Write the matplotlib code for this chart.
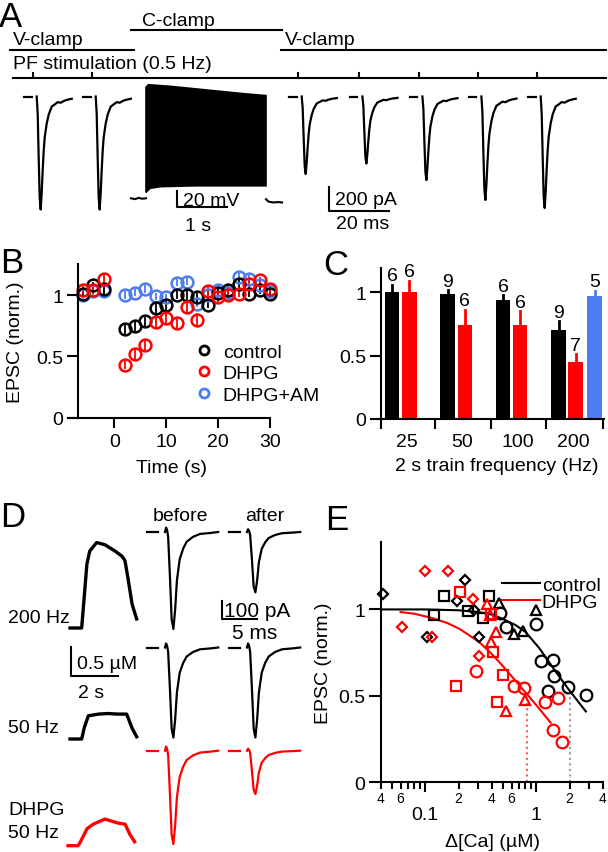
import numpy as np
import matplotlib
matplotlib.use('Agg')
import matplotlib.pyplot as plt
from matplotlib.ticker import FixedLocator, FixedFormatter, NullFormatter
from matplotlib.lines import Line2D

plt.rcParams['font.family'] = ['Liberation Sans', 'DejaVu Sans']
plt.rcParams['font.size'] = 14
plt.rcParams['axes.linewidth'] = 1.5

W, H = 608, 853
RED = '#ff0000'
BLUE = '#4b7cf2'

# ---------------- data ----------------
# A: EPSC amplitudes (pA) for each PF stimulus, and a normalised EPSC waveform
epsc_amp_A = [970, 970, 665, 575, 717, 888, 957]
epsc_t_A = [0, 0.33, 0.67, 1.0, 1.33, 1.67, 2.0, 2.33, 2.67, 3.33, 4.0, 5.0, 6.0, 7.0, 8.0, 9.0, 10.0, 11.7]
epsc_f_A = [0, 0.15, 0.55, 0.9, 1.0, 0.85, 0.65, 0.48, 0.36, 0.24, 0.16, 0.09, 0.07, 0.05, 0.055, 0.04, 0.03, 0.02]
# A: current clamp train (mV relative to rest, time in s)
cc_pre_t = [-0.3, -0.22, -0.15, -0.08, 0]
cc_pre_v = [0, -1, 0.5, -0.5, 0]
cc_top_t = [0, 0.05, 0.5, 1.0, 1.5, 2.0, 2.4]
cc_top_v = [133, 136, 134, 131, 128, 125, 123]
cc_bot_t = [0, 0.08, 0.3, 1.0, 2.4]
cc_bot_v = [7, 12, 14, 15, 15]
cc_post_t = [2.4, 2.45, 2.55, 2.65, 2.72]
cc_post_v = [-1, -4, -5, -4.5, -5]

# B: time course
t_b = [-6, -4, -2, 2, 4, 6, 8, 10, 12, 14, 16, 18, 20, 22, 24, 26, 28, 30]
ctrl_b = [1.01, 1.08, 1.05, 0.72, 0.75, 0.79, 0.89, 0.92, 1.0, 1.0, 0.98, 0.92, 1.02, 1.04, 1.09, 1.01, 1.04, 1.01]
ctrl_b_err = [0.03, 0.03, 0.04, 0.04, 0.05, 0.05, 0.05, 0.04, 0.03, 0.04, 0.04, 0.03, 0.03, 0.03, 0.03, 0.03, 0.03, 0.03]
dhpg_b = [1.04, 1.04, 1.13, 0.43, 0.52, 0.59, 0.78, 0.81, 0.77, 0.90, 0.80, 1.03, 0.98, 1.0, 1.01, 1.09, 1.12, 1.05]
dhpg_b_err = [0.03, 0.03, 0.05, 0.03, 0.05, 0.05, 0.06, 0.05, 0.04, 0.05, 0.05, 0.04, 0.04, 0.03, 0.03, 0.04, 0.03, 0.03]
am_b = [1.0, 1.03, 1.03, 1.0, 1.02, 1.05, 0.99, 0.98, 1.10, 1.11, 0.93, 1.0, 1.04, 1.02, 1.15, 1.13, 1.08, 1.03]
am_b_err = [0.03] * 18

# C: bar chart
freqs = ['25', '50', '100', '200']
ctrl_c = [1.0, 0.987, 0.934, 0.705]
ctrl_c_err = [0.058, 0.026, 0.04, 0.065]
ctrl_c_n = [6, 9, 6, 9]
dhpg_c = [1.0, 0.742, 0.737, 0.453]
dhpg_c_err = [0.087, 0.118, 0.113, 0.057]
dhpg_c_n = [6, 6, 6, 7]
am_c = 0.966
am_c_err = 0.042
am_c_n = 5

# D: Ca transients (s, uM)
ca200_t = [0, 0.42, 0.49, 0.59, 0.71, 0.83, 1.12, 1.47, 1.89, 2.18, 2.31, 2.44, 2.61, 2.8]
ca200_c = [0, 0, 0, 0.51, 1.13, 1.36, 1.51, 1.47, 1.36, 1.27, 1.19, 0.87, 0.42, 0.16]
ca50_t = [0, 0.49, 0.6, 0.77, 1.2, 1.6, 2.0, 2.38, 2.6, 2.8]
ca50_c = [0, 0, 0.2, 0.41, 0.44, 0.45, 0.44, 0.44, 0.2, 0.04]
cadh_t = [0, 0.42, 0.5, 0.8, 1.06, 1.55, 2.1, 2.4, 2.6, 2.8]
cadh_c = [0, 0, 0.05, 0.3, 0.38, 0.47, 0.4, 0.38, 0.2, 0.07]
# D: EPSCs before/after (pA) and normalised waveform (ms)
epsc_before_D = [530, 492, 510]
epsc_after_D = [330, 492, 237]
epsc_t_D = [0, 0.15, 0.3, 0.45, 0.7, 0.95, 1.2, 1.45, 1.7, 2.1, 2.6, 3.1, 4, 5, 6.5, 7.6]
epsc_f_D = [0, -0.045, -0.02, 0.05, 0.45, 0.9, 1.0, 0.8, 0.5, 0.28, 0.17, 0.1, 0.05, 0.02, 0.01, 0.0]

# E: EPSC vs delta Ca
ctrl_circ_x = [0.47, 0.536, 1.0, 1.11, 1.41, 1.46, 1.27, 1.93, 2.83]
ctrl_circ_y = [0.98, 0.897, 0.917, 0.704, 0.71, 0.617, 0.53, 0.55, 0.507]
ctrl_sq_x = [0.149, 0.12, 0.241, 0.33, 0.375]
ctrl_sq_y = [1.079, 0.965, 0.988, 0.95, 1.08]
ctrl_dia_x = [0.0418, 0.103, 0.23, 0.192, 0.277, 0.305]
ctrl_dia_y = [1.09, 0.843, 1.17, 1.046, 0.998, 0.838]
ctrl_tri_x = [0.466, 1.0, 0.757, 0.637]
ctrl_tri_y = [1.04, 0.994, 0.878, 0.859]
dhpg_circ_x = [0.285, 0.637, 0.784, 1.21, 1.57, 1.41, 1.72]
dhpg_circ_y = [0.646, 0.559, 0.544, 0.467, 0.486, 0.305, 0.232]
dhpg_sq_x = [0.206, 0.392, 0.405, 0.50, 0.19, 0.44]
dhpg_sq_y = [1.10, 0.975, 0.753, 0.62, 0.559, 0.463]
dhpg_dia_x = [0.0624, 0.1, 0.159, 0.115, 0.267, 0.308]
dhpg_dia_y = [0.897, 1.22, 1.225, 0.84, 1.06, 0.731]
dhpg_tri_x = [0.36, 0.385, 0.435, 0.392, 0.536, 0.80]
dhpg_tri_y = [1.03, 0.97, 0.868, 0.81, 0.415, 0.477]
ctrl_fit_x = [0.04, 0.1, 0.2, 0.3, 0.4, 0.5, 0.65, 0.8, 1.07, 1.5, 2.0, 2.8]
ctrl_fit_y = [1.0, 1.0, 0.995, 0.985, 0.97, 0.945, 0.91, 0.87, 0.775, 0.64, 0.53, 0.41]
dhpg_fit_x = [0.06, 0.08, 0.116, 0.16, 0.203, 0.25, 0.308, 0.38, 0.466, 0.58, 0.707, 0.9, 1.1, 1.35]
dhpg_fit_y = [0.985, 0.975, 0.95, 0.92, 0.888, 0.85, 0.81, 0.755, 0.695, 0.625, 0.56, 0.482, 0.415, 0.345]
ec_ctrl = 2.03
ec_dhpg = 0.82

# ---------------- figure ----------------
fig = plt.figure(figsize=(W / 100, H / 100), dpi=100)


def px_axes(x0, y0, x1, y1):
    return fig.add_axes([x0 / W, 1 - y1 / H, (x1 - x0) / W, (y1 - y0) / H])


ov = fig.add_axes([0, 0, 1, 1])
ov.set_xlim(0, W)
ov.set_ylim(H, 0)
ov.axis('off')


def txt(x, y, s, **kw):
    kw.setdefault('fontsize', 14)
    kw.setdefault('va', 'baseline')
    ov.text(x, y, s, **kw)


# panel letters
for x, y, s in [(-1, 27, 'A'), (0, 273, 'B'), (323, 275, 'C'), (0, 527, 'D'), (325, 530, 'E')]:
    txt(x, y, s, fontsize=25)

# ---- A: protocol ----
ov.plot([10, 134], [50.7, 50.7], color='k', lw=1.5)
ov.plot([131, 282], [30.7, 30.7], color='k', lw=1.5)
ov.plot([281, 606], [50.7, 50.7], color='k', lw=1.5)
txt(13, 45, 'V-clamp')
txt(142, 26, 'C-clamp')
txt(285, 45, 'V-clamp')
txt(13, 69, 'PF stimulation (0.5 Hz)')
stim_x = [33.3, 92.3, 298.3, 359, 419, 478, 537.3]
ov.plot([12.7, 606], [79.3, 79.3], color='k', lw=1.5)
for sx in stim_x:
    ov.plot([sx, sx], [74, 79.3], color='k', lw=1.5)

# ---- A: EPSCs ----
base_A = 97.5
pxms_A, pxpa_A = 3.0, 23.3 / 200
for sx, amp in zip(stim_x, epsc_amp_A):
    x0 = sx + 3.4
    ov.plot([x0 - 12.7, x0 - 5], [base_A, base_A], color='k', lw=1.6)
    ov.plot(x0 + np.array(epsc_t_A) * pxms_A, base_A + amp * pxpa_A * np.array(epsc_f_A),
            color='k', lw=1.6)

# ---- A: current clamp block ----
cc_x0, cc_rest = 146, 199.3
pxs_A, pxmv_A = 50.0, 0.835
ov.plot(cc_x0 + np.array(cc_pre_t) * pxs_A, cc_rest - np.array(cc_pre_v) * pxmv_A, color='k', lw=1.5)
poly_x = np.concatenate([cc_x0 + np.array(cc_top_t) * pxs_A, (cc_x0 + np.array(cc_bot_t) * pxs_A)[::-1]])
poly_y = np.concatenate([cc_rest - np.array(cc_top_v) * pxmv_A, (cc_rest - np.array(cc_bot_v) * pxmv_A)[::-1]])
ov.fill(poly_x, poly_y, color='k', lw=1.2)
ov.plot(cc_x0 + np.array(cc_post_t) * pxs_A, cc_rest - np.array(cc_post_v) * pxmv_A, color='k', lw=1.5)

# scale bars A
ov.plot([176.7, 176.7, 226.7], [191.7, 208.3, 208.3], color='k', lw=1.5)
txt(182.7, 206, '20 mV')
txt(185, 231, '1 s')
ov.plot([329, 329, 389], [188.3, 211.7, 211.7], color='k', lw=1.5)
txt(334.7, 205, '200 pA')
txt(335.7, 229, '20 ms')

# ---- B ----
axb = px_axes(68, 265.4, 270, 418.5)
axb.set_xlim(-8.9, 30)
axb.set_ylim(0, 1.25)
for ys, es, c in [(am_b, am_b_err, BLUE), (ctrl_b, ctrl_b_err, 'k'), (dhpg_b, dhpg_b_err, RED)]:
    axb.errorbar(t_b, ys, yerr=es, fmt='o', ms=8.5, mfc='none', mec=c, mew=1.8,
                 ecolor=c, elinewidth=1.3, capsize=0, clip_on=False)
axb.spines['left'].set_position(('data', -7))
axb.set_xticks([0, 10, 20, 30])
axb.set_yticks([0, 0.5, 1])
axb.set_yticklabels(['0', '0.5', '1'])
leg_b = [Line2D([], [], ls='none', marker='o', ms=6.5, mfc='none', mec=c, mew=2)
         for c in ['k', RED, BLUE]]
axb.legend(leg_b, ['control', 'DHPG', 'DHPG+AM'], loc='upper left',
           bbox_to_anchor=(194.5 / W, 1 - 344 / H), bbox_transform=fig.transFigure,
           frameon=False, borderpad=0, borderaxespad=0, handlelength=1.0,
           handletextpad=0.45, labelspacing=0.2, fontsize=14)
txt(172, 473, 'Time (s)', ha='center')
txt(16, 342, 'EPSC (norm.)', ha='center', va='center', rotation=90)

# ---- C ----
axc = px_axes(381, 269, 604, 420)
axc.set_xlim(-0.36, 3.66)
axc.set_ylim(0, 1.19)
gx = np.arange(len(freqs))
bw = 0.26
axc.bar(gx - 0.16, ctrl_c, width=bw, color='k')
axc.bar(gx + 0.15, dhpg_c, width=bw, color=RED)
axc.bar([3.49], [am_c], width=bw, color=BLUE)
for xs, ys, es, ns, c in [(gx - 0.16, ctrl_c, ctrl_c_err, ctrl_c_n, 'k'),
                          (gx + 0.15, dhpg_c, dhpg_c_err, dhpg_c_n, RED),
                          ([3.49], [am_c], [am_c_err], [am_c_n], BLUE)]:
    for x, y, e, n in zip(xs, ys, es, ns):
        axc.plot([x, x], [y, y + e], color=c, lw=2)
        axc.text(x, y + e + 0.005, str(n), ha='center', va='bottom', fontsize=14)
axc.xaxis.set_major_locator(FixedLocator([-0.355, 0.62, 1.62, 2.62, 3.64]))
axc.xaxis.set_major_formatter(NullFormatter())
axc.xaxis.set_minor_locator(FixedLocator(gx + 0.1))
axc.xaxis.set_minor_formatter(FixedFormatter(freqs))
axc.tick_params(axis='x', which='minor', length=0, pad=10, labelsize=14)
axc.set_yticks([0, 0.5, 1])
axc.set_yticklabels(['0', '0.5', '1'])
txt(497, 471, '2 s train frequency (Hz)', ha='center')

# ---- D ----
pxs_D, pxum_D = 23.8, 56.6
for x0, y0, ts, cs, c in [(70, 629, ca200_t, ca200_c, 'k'), (70, 740, ca50_t, ca50_c, 'k'),
                          (68, 846.7, cadh_t, cadh_c, RED)]:
    ov.plot(x0 + np.array(ts) * pxs_D, y0 - np.array(cs) * pxum_D, color=c, lw=2.4)
txt(8, 623, '200 Hz')
txt(8, 733, '50 Hz')
txt(8, 815, 'DHPG')
txt(8, 838, '50 Hz')
ov.plot([70.7, 70.7, 118.3], [648.3, 676.7, 676.7], color='k', lw=1.5)
txt(76.7, 669, '0.5 µM')
txt(78, 698, '2 s')

pxms_D, pxpa_D = 7.0, 18.3 / 100
rows_D = [533, 648.5, 751.7]
cols_D = [165, 247]
for i, y0 in enumerate(rows_D):
    c = RED if i == 2 else 'k'
    for x0, amp in zip(cols_D, [epsc_before_D[i], epsc_after_D[i]]):
        ov.plot([x0 - 18.5, x0 - 7], [y0, y0], color=c, lw=1.6)
        ov.plot(x0 + np.array(epsc_t_D) * pxms_D, y0 + amp * pxpa_D * np.array(epsc_f_D),
                color=c, lw=1.6)
txt(180, 521, 'before', ha='center')
txt(265, 521, 'after', ha='center')
ov.plot([221.7, 221.7, 256.7], [601.7, 620, 620], color='k', lw=1.5)
txt(224, 617, '100 pA', fontsize=15)
txt(231.7, 639, '5 ms', fontsize=15)

# ---- E ----
axe = px_axes(381, 543, 603, 783.3)
axe.set_xscale('log')
axe.set_xlim(0.04, 4)
axe.set_ylim(0, 1.39)
axe.plot([ec_dhpg, ec_dhpg], [0, 0.46], color='#ff5a5a', ls=':', lw=1.5)
axe.plot([ec_ctrl, ec_ctrl], [0, 0.5], color='#9a9a9a', ls=':', lw=1.5)
axe.plot(ctrl_fit_x, ctrl_fit_y, color='k', lw=1.5)
axe.plot(dhpg_fit_x, dhpg_fit_y, color=RED, lw=1.5)
mk = dict(ls='none', mfc='none', mew=1.6, clip_on=False)
for c, groups in [('k', [(ctrl_circ_x, ctrl_circ_y, 'o', 8.4), (ctrl_sq_x, ctrl_sq_y, 's', 7.2),
                         (ctrl_dia_x, ctrl_dia_y, 'D', 5.6), (ctrl_tri_x, ctrl_tri_y, '^', 7.4)]),
                  (RED, [(dhpg_circ_x, dhpg_circ_y, 'o', 8.4), (dhpg_sq_x, dhpg_sq_y, 's', 7.2),
                         (dhpg_dia_x, dhpg_dia_y, 'D', 5.6), (dhpg_tri_x, dhpg_tri_y, '^', 7.4)])]:
    for xs, ys, m, s in groups:
        axe.plot(xs, ys, marker=m, ms=s, mec=c, **mk)
axe.xaxis.set_major_locator(FixedLocator([0.1, 1]))
axe.xaxis.set_major_formatter(FixedFormatter(['0.1', '1']))
minor_vals = [0.04, 0.05, 0.06, 0.07, 0.08, 0.09, 0.2, 0.3, 0.4, 0.5, 0.6, 0.7, 0.8, 0.9, 2, 3, 4]
minor_labs = {0.04: '4', 0.06: '6', 0.2: '2', 0.4: '4', 0.6: '6', 2: '2', 4: '4'}
axe.xaxis.set_minor_locator(FixedLocator(minor_vals))
axe.xaxis.set_minor_formatter(FixedFormatter([minor_labs.get(v, '') for v in minor_vals]))
axe.set_yticks([0, 0.5, 1])
axe.set_yticklabels(['0', '0.5', '1'])
axe.legend([Line2D([], [], color='k', lw=1.5), Line2D([], [], color=RED, lw=1.5)],
           ['control', 'DHPG'], loc='upper left',
           bbox_to_anchor=(501.7 / W, 1 - 577 / H), bbox_transform=fig.transFigure,
           frameon=False, borderpad=0, borderaxespad=0, handlelength=1.96,
           handletextpad=0.1, labelspacing=0.0, fontsize=14)
txt(492.5, 847, 'Δ[Ca] (µM)', ha='center')
txt(324, 663, 'EPSC (norm.)', ha='center', va='center', rotation=90)

# common axis styling
for ax in [axb, axc, axe]:
    ax.spines['top'].set_visible(False)
    ax.spines['right'].set_visible(False)
    ax.patch.set_visible(False)
    ax.tick_params(axis='y', which='major', direction='out', length=8, width=1.5, pad=2.5, labelsize=14)
    ax.tick_params(axis='x', which='major', direction='out', length=7, width=1.5, pad=4, labelsize=14)
axe.tick_params(axis='y', length=9)
axe.tick_params(axis='x', which='major', length=7, pad=10)
axe.tick_params(axis='x', which='minor', direction='out', length=5, width=1.5, pad=1.5, labelsize=10)

fig.savefig('out.png', dpi=100)
